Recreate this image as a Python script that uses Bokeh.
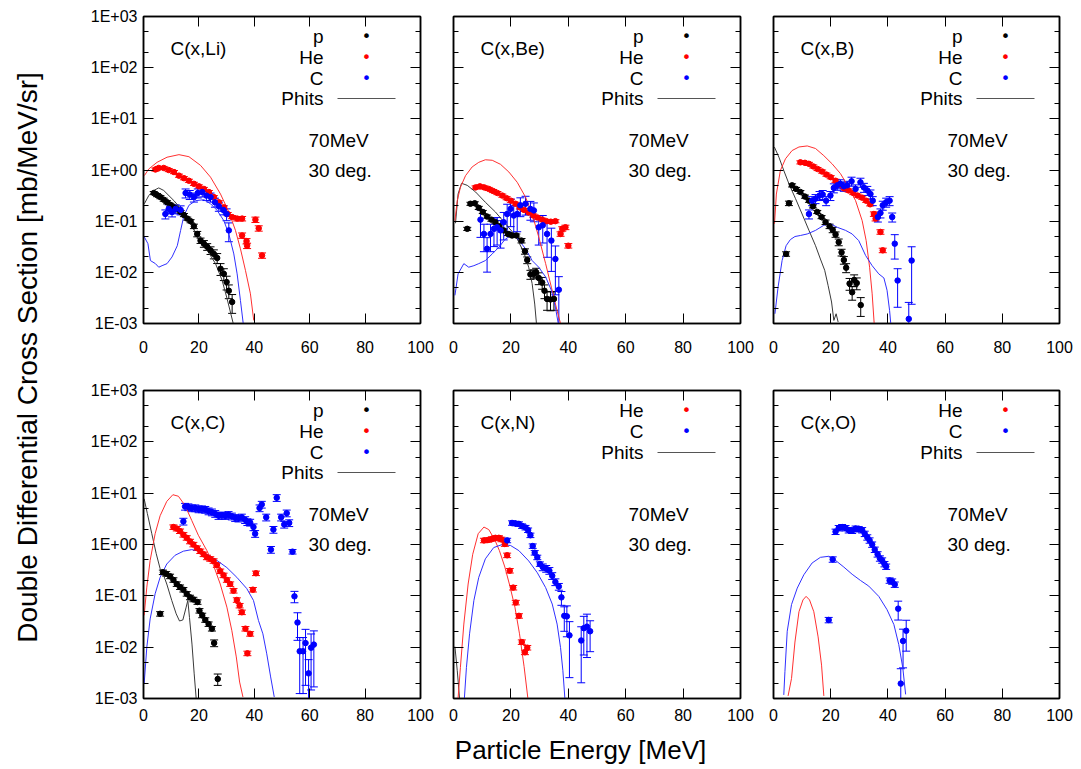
import numpy as np
from bokeh.plotting import figure
from bokeh.layouts import row, column
from bokeh.models import (Range1d, LogAxis, LinearAxis, FixedTicker, Whisker, TeeHead,
                          Label, Arrow, ColumnDataSource, CustomJSTickFormatter)
from bokeh.embed import file_html
from bokeh.resources import INLINE

# ---------------- tick definitions ----------------
X_TICKS = [0, 20, 40, 60, 80, 100]
Y_MAJOR = [1e-3, 1e-2, 1e-1, 1e0, 1e1, 1e2, 1e3]
Y_MINOR = [2e-3, 5e-3, 2e-2, 5e-2, 2e-1, 5e-1, 2e0, 5e0, 2e1, 5e1, 2e2, 5e2]

# ---------------- data (x in MeV, values as log10 of mb/MeV/sr, errors as relative) -------------
# C(x,Li)
li_p_x = [3.7, 4.9, 6.1, 7.3, 8.5, 9.7, 11.0, 12.2, 13.4, 14.6, 15.8, 17.0, 18.2, 19.4, 20.6, 21.8, 23.0, 24.2, 25.4, 26.6, 27.8, 29.0, 30.0, 30.8, 32.0]
li_p_log = [-0.45, -0.49, -0.53, -0.58, -0.63, -0.68, -0.73, -0.77, -0.82, -0.88, -0.95, -1.00, -1.10, -1.25, -1.38, -1.44, -1.50, -1.57, -1.64, -1.72, -1.93, -2.03, -2.19, -2.36, -2.58]
li_p_err = [0.07]*12 + [0.1, 0.12, 0.12, 0.15, 0.15, 0.17, 0.2, 0.22, 0.26, 0.26, 0.3, 0.3, 0.4]
li_he_x = [4.3, 5.5, 7.3, 9.1, 11.0, 12.8, 14.6, 16.4, 18.2, 20.0, 21.8, 23.6, 25.4, 27.2, 29.0, 30.4, 32.0, 33.8, 35.6, 35.6, 37.2, 37.4, 40.4, 41.6, 42.8]
li_he_log = [0.01, 0.04, 0.04, 0.00, -0.04, -0.11, -0.16, -0.21, -0.27, -0.32, -0.37, -0.43, -0.53, -0.63, -0.73, -0.86, -0.92, -0.95, -0.95, -1.28, -1.39, -1.48, -0.97, -1.14, -1.67]
li_he_err = [0.07]*17 + [0.1, 0.1, 0.12, 0.12, 0.12, 0.12, 0.12, 0.12]
li_c_x = [7.9, 9.1, 10.3, 11.6, 13.4, 15.2, 16.7, 18.2, 19.6, 21.2, 22.7, 24.2, 25.8, 27.2, 28.8, 30.0, 30.8]
li_c_log = [-0.86, -0.76, -0.82, -0.76, -0.78, -0.45, -0.48, -0.53, -0.45, -0.43, -0.50, -0.53, -0.63, -0.71, -0.78, -0.86, -1.18]
li_c_err = [0.2]*15 + [0.26, 0.4]
li_p_phits_x = [0.3, 1.9, 3.7, 5.5, 7.3, 11.0, 14.0, 17.0, 20.0, 23.0, 26.0, 28.4, 30.2, 32.4]
li_p_phits_log = [-0.66, -0.50, -0.40, -0.35, -0.40, -0.60, -0.79, -1.02, -1.38, -1.57, -1.83, -2.16, -2.52, -3.0]
li_he_phits_x = [0.3, 1.9, 4.9, 8.5, 12.8, 16.4, 20.6, 24.2, 27.8, 30.8, 33.2, 35.0, 36.8, 38.6, 39.8]
li_he_phits_log = [-0.11, 0.02, 0.15, 0.25, 0.30, 0.26, 0.09, -0.14, -0.47, -0.82, -1.18, -1.54, -1.96, -2.42, -2.94]
li_c_phits_x = [0.3, 1.6, 2.5, 4.3, 5.5, 6.7, 8.5, 10.3, 12.2, 13.4, 14.6, 16.4, 18.8, 21.8, 24.2, 26.6, 29.0, 30.8, 32.6, 33.8, 35.0, 36.0]
li_c_phits_log = [-1.31, -1.44, -1.77, -1.83, -1.90, -1.87, -1.83, -1.70, -1.48, -1.18, -0.89, -0.69, -0.60, -0.58, -0.66, -0.79, -0.99, -1.25, -1.64, -2.03, -2.55, -3.0]

# C(x,Be)
be_p_x = [4.8, 5.9, 7.4, 8.8, 10.2, 11.7, 13.2, 14.6, 16.0, 17.5, 19.0, 20.4, 21.9, 23.7, 24.9, 25.7, 26.8, 28.0, 28.8, 29.7, 30.9, 31.7, 32.6, 33.8, 35.0]
be_p_log = [-1.15, -0.66, -0.65, -0.74, -0.82, -0.91, -0.97, -1.02, -1.10, -1.18, -1.25, -1.28, -1.28, -1.38, -1.59, -1.76, -2.04, -2.03, -2.00, -2.11, -2.20, -2.36, -2.52, -2.53, -2.52]
be_p_err = [0.07]*13 + [0.1, 0.12, 0.15, 0.2, 0.2, 0.2, 0.26, 0.26, 0.3, 0.4, 0.4, 0.4]
be_he_x = [7.7, 9.2, 10.7, 12.3, 13.8, 15.3, 17.0, 18.5, 20.0, 21.6, 23.1, 24.6, 26.2, 27.8, 29.3, 30.9, 32.4, 33.9, 35.5, 37.3, 37.9, 39.0, 40.0]
be_he_log = [-0.34, -0.32, -0.34, -0.37, -0.41, -0.45, -0.50, -0.55, -0.60, -0.66, -0.73, -0.78, -0.83, -0.89, -0.93, -0.97, -1.00, -1.01, -1.00, -1.25, -1.15, -1.12, -1.48]
be_he_err = [0.07]*19 + [0.1]*4
be_c_x = [9.4, 10.6, 11.7, 12.9, 14.1, 15.2, 16.4, 17.5, 18.7, 19.9, 21.0, 22.2, 23.3, 25.1, 26.8, 28.0, 29.7, 31.1, 32.6, 34.1, 35.5, 36.7]
be_c_log = [-0.97, -1.25, -1.54, -1.25, -1.15, -1.12, -1.18, -1.02, -0.86, -0.76, -0.89, -0.86, -0.69, -0.66, -0.76, -0.79, -1.12, -1.08, -1.25, -1.38, -1.74, -2.34]
be_c_err = [0.55, 0.55, 0.65, 0.55, 0.55, 0.55, 0.55, 0.55, 0.55, 0.55, 0.55, 0.55, 0.4, 0.4, 0.4, 0.4, 0.55, 0.55, 0.65, 0.75, 0.8, 0.8]
be_p_phits_x = [0.7, 1.6, 2.8, 4.8, 7.7, 11.1, 14.6, 18.1, 21.6, 24.5, 26.2, 27.4, 28.3, 28.9]
be_p_phits_log = [-1.04, -0.47, -0.26, -0.30, -0.43, -0.63, -0.82, -1.05, -1.28, -1.61, -1.90, -2.22, -2.62, -3.0]
be_he_phits_x = [0.5, 1.3, 2.4, 4.2, 6.5, 8.8, 11.1, 13.5, 16.4, 19.3, 22.2, 25.1, 27.4, 29.7, 32.1, 34.1, 36.1, 37.3]
be_he_phits_log = [-0.99, -0.60, -0.34, -0.11, 0.06, 0.15, 0.20, 0.19, 0.11, -0.04, -0.24, -0.53, -0.86, -1.31, -1.83, -2.29, -2.75, -3.0]
be_c_phits_x = [0.5, 1.6, 3.6, 5.3, 7.1, 8.8, 11.1, 13.5, 15.8, 17.9, 19.9, 22.2, 25.1, 27.4, 29.7, 32.1, 34.1, 35.5, 36.5]
be_c_phits_log = [-2.45, -2.03, -1.83, -1.90, -1.87, -1.83, -1.77, -1.64, -1.51, -1.36, -1.28, -1.33, -1.54, -1.77, -1.90, -2.09, -2.35, -2.68, -3.0]

# C(x,B)
b_p_x = [4.4, 5.4, 6.5, 7.9, 9.4, 11.0, 12.4, 13.8, 15.3, 16.8, 18.2, 19.6, 20.7, 21.7, 22.8, 23.8, 24.6, 25.4, 26.6, 27.5, 28.2, 29.1, 30.5]
b_p_log = [-1.64, -0.65, -0.30, -0.37, -0.43, -0.52, -0.60, -0.71, -0.82, -0.92, -1.02, -1.10, -1.17, -1.26, -1.41, -1.61, -1.76, -1.91, -2.22, -2.39, -2.15, -2.21, -2.64]
b_p_err = [0.1, 0.1, 0.07, 0.07, 0.07, 0.07, 0.07, 0.07, 0.07, 0.07, 0.1, 0.1, 0.12, 0.12, 0.15, 0.15, 0.17, 0.2, 0.26, 0.3, 0.26, 0.26, 0.4]
b_he_x = [9.4, 11.0, 12.4, 13.9, 15.4, 17.0, 18.5, 20.0, 21.7, 23.2, 24.7, 26.3, 27.9, 29.4, 31.0, 32.4, 33.8, 35.1, 35.7, 37.4, 38.2]
b_he_log = [0.15, 0.14, 0.12, 0.07, 0.02, -0.03, -0.09, -0.14, -0.21, -0.29, -0.36, -0.40, -0.45, -0.50, -0.54, -0.60, -0.67, -0.86, -0.95, -1.21, -1.57]
b_he_err = [0.07]*17 + [0.1]*4
b_c_x = [12.4, 13.5, 14.7, 16.1, 17.2, 18.4, 19.9, 21.1, 22.3, 23.4, 24.6, 25.8, 27.3, 28.7, 30.4, 31.6, 32.8, 33.9, 34.7, 36.5, 37.4, 38.2, 39.4, 40.6, 41.5, 42.4, 43.4, 47.3, 48.3]
b_c_log = [-0.86, -0.60, -0.56, -0.50, -0.48, -0.60, -0.50, -0.35, -0.30, -0.27, -0.32, -0.30, -0.22, -0.37, -0.24, -0.34, -0.40, -0.47, -0.60, -0.92, -0.84, -0.69, -0.63, -0.60, -0.92, -1.44, -2.16, -2.91, -1.77]
b_c_err = [0.2]*25 + [0.5, 0.7, 1.1, 0.86]
b_p_phits_x = [0.3, 1.9, 3.6, 5.4, 7.7, 10.0, 12.4, 14.7, 16.4, 17.9, 19.1, 20.3, 21.1, 21.9, 22.6]
b_p_phits_log = [0.45, 0.25, -0.01, -0.27, -0.56, -0.86, -1.18, -1.48, -1.74, -1.96, -2.26, -2.58, -2.94, -2.81, -2.97]
b_he_phits_x = [0.35, 1.0, 2.4, 4.2, 6.5, 8.9, 11.8, 14.7, 17.6, 20.5, 23.4, 26.3, 28.7, 31.0, 32.4, 33.6, 34.5, 35.2]
b_he_phits_log = [-1.05, -0.47, -0.01, 0.22, 0.38, 0.45, 0.47, 0.42, 0.28, 0.12, -0.07, -0.34, -0.60, -0.99, -1.38, -1.90, -2.42, -3.0]
b_c_phits_x = [0.5, 1.6, 3.0, 4.4, 5.9, 7.5, 9.4, 11.8, 14.7, 17.6, 19.9, 22.3, 25.2, 27.5, 29.8, 32.2, 34.5, 36.8, 38.6, 39.7, 40.6, 41.0]
b_c_phits_log = [-2.81, -2.29, -1.77, -1.48, -1.36, -1.30, -1.28, -1.25, -1.18, -1.08, -1.05, -1.12, -1.18, -1.25, -1.38, -1.67, -1.87, -2.03, -2.11, -2.35, -2.75, -3.0]

# C(x,C)
c_p_x = [6.0, 7.0, 8.2, 9.6, 10.8, 12.0, 13.2, 14.4, 15.6, 16.8, 18.0, 19.5, 20.2, 21.2, 22.3, 23.5, 24.7, 25.5, 26.8]
c_p_log = [-1.35, -0.54, -0.57, -0.62, -0.69, -0.77, -0.83, -0.88, -0.96, -1.03, -1.07, -1.12, -1.29, -1.38, -1.47, -1.55, -1.64, -1.92, -2.62]
c_p_err = [0.1]*17 + [0.15, 0.25]
c_he_x = [10.8, 12.0, 13.2, 14.4, 15.6, 16.8, 18.0, 19.3, 20.5, 21.7, 22.9, 24.1, 25.3, 26.5, 27.7, 28.9, 30.1, 31.3, 32.5, 33.7, 34.7, 35.5, 36.8, 38.5, 37.5, 39.5, 40.6]
c_he_log = [0.34, 0.31, 0.26, 0.19, 0.13, 0.06, 0.00, -0.07, -0.13, -0.19, -0.25, -0.28, -0.32, -0.40, -0.52, -0.60, -0.69, -0.77, -0.90, -1.08, -1.19, -1.32, -1.64, -1.74, -2.12, -0.88, -0.56]
c_he_err = [0.1]*27
c_c_x = [14.4, 15.0, 16.2, 17.4, 18.7, 19.9, 21.1, 22.3, 23.5, 24.7, 25.9, 27.1, 28.3, 29.5, 30.7, 31.9, 33.1, 34.3, 35.5, 36.7, 37.5, 38.5, 39.7, 40.3, 41.9, 42.7, 44.3, 46.0, 46.9, 48.1, 49.7, 50.8, 51.7, 52.6, 53.8, 54.5, 55.6, 56.4, 57.6, 58.5, 59.6, 60.5, 61.5]
c_c_log = [0.45, 0.74, 0.73, 0.71, 0.71, 0.69, 0.69, 0.68, 0.65, 0.63, 0.60, 0.56, 0.57, 0.56, 0.58, 0.55, 0.52, 0.51, 0.53, 0.48, 0.44, 0.43, 0.34, 0.21, 0.71, 0.78, 0.53, -0.10, 0.29, 0.91, 0.53, 0.39, 0.61, 0.42, -0.14, -1.01, -1.52, -2.08, -2.08, -1.92, -2.51, -2.01, -1.95]
c_c_err = [0.15]*34 + [0.1, 0.25, 0.55, 0.85, 0.85, 0.85, 0.85, 0.85, 0.85]
c_p_phits_x = [0.24, 1.4, 3.0, 4.6, 6.0, 7.0, 8.4, 10.2, 11.8, 13.0, 14.2, 15.4, 16.0, 16.6, 17.5, 18.3, 19.0]
c_p_phits_log = [0.89, 0.60, 0.21, -0.18, -0.47, -0.56, -0.77, -1.09, -1.35, -1.49, -1.47, -1.22, -1.09, -1.42, -1.94, -2.52, -2.99]
c_he_phits_x = [0.24, 1.2, 2.4, 4.2, 6.0, 8.4, 10.6, 12.6, 15.0, 17.4, 19.8, 22.9, 25.3, 27.7, 30.1, 31.9, 33.5, 34.7, 35.9]
c_he_phits_log = [-1.38, -0.83, -0.31, 0.21, 0.56, 0.84, 0.97, 0.94, 0.76, 0.47, 0.18, -0.12, -0.41, -0.77, -1.22, -1.68, -2.19, -2.68, -2.97]
c_c_phits_x = [0.24, 1.2, 2.4, 4.2, 6.0, 8.4, 11.4, 14.4, 17.4, 20.5, 23.5, 26.5, 30.1, 33.7, 37.3, 39.7, 41.5, 43.1, 44.5, 45.9, 47.2]
c_c_phits_log = [-2.71, -2.00, -1.45, -0.96, -0.64, -0.38, -0.21, -0.13, -0.10, -0.13, -0.21, -0.31, -0.45, -0.64, -0.86, -1.09, -1.48, -1.74, -2.13, -2.58, -2.97]

# C(x,N)
n_he_x = [10.6, 12.1, 13.5, 14.6, 15.8, 16.7, 17.9, 18.7, 19.6, 20.8, 21.7, 22.8, 23.8, 24.9, 25.7]
n_he_log = [0.08, 0.09, 0.11, 0.13, 0.13, 0.10, 0.01, -0.21, -0.51, -0.84, -1.13, -1.39, -1.90, -2.10, -2.01]
n_he_err = [0.1]*15
n_c_x = [18.7, 20.4, 21.6, 22.8, 23.9, 25.1, 26.0, 26.8, 27.6, 28.3, 29.2, 30.1, 31.1, 32.3, 33.4, 34.4, 35.5, 36.7, 37.6, 38.6, 39.5, 40.4, 44.5, 45.4, 46.5, 47.6]
n_c_log = [0.08, 0.42, 0.41, 0.40, 0.36, 0.33, 0.28, 0.18, -0.03, -0.16, -0.25, -0.38, -0.44, -0.47, -0.51, -0.61, -0.73, -0.82, -1.03, -1.39, -1.40, -1.77, -1.87, -1.63, -1.60, -1.69]
n_c_err = [0.1]*12 + [0.15]*6 + [0.3, 0.5, 0.6, 0.85, 0.85, 0.7, 0.75, 0.6]
n_p_phits_x = [0.5, 1.3, 2.1]
n_p_phits_log = [-1.99, -2.45, -2.99]
n_he_phits_x = [1.6, 2.4, 3.6, 5.1, 6.7, 8.6, 10.6, 12.3, 14.4, 16.0, 17.9, 19.6, 21.4, 23.0, 24.6, 25.9]
n_he_phits_log = [-2.99, -2.40, -1.55, -0.77, -0.19, 0.21, 0.34, 0.29, 0.09, -0.12, -0.44, -0.80, -1.22, -1.74, -2.38, -2.99]
n_c_phits_x = [3.8, 4.5, 5.6, 7.1, 8.8, 11.1, 14.0, 17.0, 19.9, 22.8, 26.2, 29.2, 32.1, 34.4, 36.1, 37.3, 38.1, 38.8]
n_c_phits_log = [-2.99, -2.40, -1.74, -1.09, -0.64, -0.28, -0.06, 0.00, -0.02, -0.12, -0.32, -0.55, -0.84, -1.16, -1.55, -2.01, -2.45, -2.99]

# C(x,O)
o_c_x = [19.3, 20.7, 21.7, 22.8, 24.0, 25.2, 26.3, 27.5, 28.7, 29.8, 31.0, 31.9, 32.8, 33.6, 34.5, 35.4, 36.4, 37.2, 38.0, 38.8, 39.4, 40.6, 41.5, 42.4, 43.6, 44.5, 45.3, 46.4]
o_c_log = [-1.47, -0.29, 0.25, 0.32, 0.34, 0.32, 0.28, 0.27, 0.31, 0.30, 0.28, 0.21, 0.14, 0.08, 0.00, -0.10, -0.19, -0.27, -0.31, -0.38, -0.43, -0.70, -0.72, -0.78, -1.25, -2.71, -1.88, -1.68]
o_c_err = [0.12]*24 + [0.4, 0.95, 0.7, 0.6]
o_he_phits_x = [5.1, 6.3, 7.5, 8.9, 10.3, 11.4, 12.6, 14.1, 15.6, 16.8, 17.6]
o_he_phits_log = [-2.95, -2.61, -1.90, -1.31, -1.08, -1.01, -1.08, -1.31, -1.80, -2.35, -2.95]
o_c_phits_x = [3.6, 4.0, 4.8, 6.3, 8.3, 10.6, 13.5, 16.4, 19.3, 21.7, 24.6, 27.5, 30.4, 33.3, 36.8, 39.7, 42.1, 43.8, 45.2, 46.2]
o_c_phits_log = [-2.93, -2.47, -1.69, -1.17, -0.85, -0.59, -0.36, -0.25, -0.23, -0.31, -0.44, -0.58, -0.70, -0.81, -1.01, -1.27, -1.56, -1.95, -2.40, -2.92]

# ---------------- styling ----------------
FONT = "Liberation Sans"
PT_COLOR = {"p": "#000000", "He": "#ff0000", "C": "#0000ff"}
LN_COLOR = {"p": "#3a3a3a", "He": "#ff3030", "C": "#3030ff"}

PANELS = [
    dict(title="C(x,Li)", fw=277, fh=307, bl=83, br=16, bt=16, bb=45, ylab=True, top=True,
         legend=["p", "He", "C"],
         exp={"p": (li_p_x, li_p_log, li_p_err), "He": (li_he_x, li_he_log, li_he_err), "C": (li_c_x, li_c_log, li_c_err)},
         phits={"p": (li_p_phits_x, li_p_phits_log), "He": (li_he_phits_x, li_he_phits_log), "C": (li_c_phits_x, li_c_phits_log)}),
    dict(title="C(x,Be)", fw=287, fh=307, bl=17, br=16, bt=16, bb=45, ylab=False, top=True,
         legend=["p", "He", "C"],
         exp={"p": (be_p_x, be_p_log, be_p_err), "He": (be_he_x, be_he_log, be_he_err), "C": (be_c_x, be_c_log, be_c_err)},
         phits={"p": (be_p_phits_x, be_p_phits_log), "He": (be_he_phits_x, be_he_phits_log), "C": (be_c_phits_x, be_c_phits_log)}),
    dict(title="C(x,B)", fw=286, fh=307, bl=17, br=22, bt=16, bb=45, ylab=False, top=True,
         legend=["p", "He", "C"],
         exp={"p": (b_p_x, b_p_log, b_p_err), "He": (b_he_x, b_he_log, b_he_err), "C": (b_c_x, b_c_log, b_c_err)},
         phits={"p": (b_p_phits_x, b_p_phits_log), "He": (b_he_phits_x, b_he_phits_log), "C": (b_c_phits_x, b_c_phits_log)}),
    dict(title="C(x,C)", fw=277, fh=308, bl=83, br=16, bt=22, bb=30, ylab=True, top=False,
         legend=["p", "He", "C"],
         exp={"p": (c_p_x, c_p_log, c_p_err), "He": (c_he_x, c_he_log, c_he_err), "C": (c_c_x, c_c_log, c_c_err)},
         phits={"p": (c_p_phits_x, c_p_phits_log), "He": (c_he_phits_x, c_he_phits_log), "C": (c_c_phits_x, c_c_phits_log)}),
    dict(title="C(x,N)", fw=287, fh=308, bl=17, br=16, bt=22, bb=30, ylab=False, top=False,
         legend=["He", "C"],
         exp={"He": (n_he_x, n_he_log, n_he_err), "C": (n_c_x, n_c_log, n_c_err)},
         phits={"p": (n_p_phits_x, n_p_phits_log), "He": (n_he_phits_x, n_he_phits_log), "C": (n_c_phits_x, n_c_phits_log)}),
    dict(title="C(x,O)", fw=286, fh=308, bl=17, br=22, bt=22, bb=30, ylab=False, top=False,
         legend=["He", "C"],
         exp={"C": (o_c_x, o_c_log, o_c_err)},
         phits={"He": (o_he_phits_x, o_he_phits_log), "C": (o_c_phits_x, o_c_phits_log)}),
]

YFMT = """
const e = Math.round(Math.log10(tick));
const a = Math.abs(e);
return "1E" + (e < 0 ? "-" : "+") + (a < 10 ? "0" : "") + a;
"""


def style_axis(ax, show, standoff):
    ax.axis_line_color = "black"
    ax.axis_line_width = 1.5
    ax.major_tick_in = 10
    ax.major_tick_out = 0
    ax.minor_tick_in = 5
    ax.minor_tick_out = 0
    ax.major_tick_line_color = "black"
    ax.minor_tick_line_color = "black"
    ax.major_tick_line_width = 1
    ax.minor_tick_line_width = 1
    if show:
        ax.major_label_text_font = FONT
        ax.major_label_text_font_size = "16px"
        ax.major_label_text_color = "black"
        ax.major_label_standoff = standoff
    else:
        ax.formatter = CustomJSTickFormatter(code="return '';")
        ax.major_label_text_font_size = "0px"
        ax.major_label_standoff = 0


def make_panel(spec):
    fw, fh = spec["fw"], spec["fh"]
    p = figure(frame_width=fw, frame_height=fh, x_range=Range1d(0, 100), y_range=Range1d(1e-3, 1e3),
               y_axis_type="log", x_axis_location=None, y_axis_location=None,
               min_border_left=spec["bl"], min_border_right=spec["br"],
               min_border_top=spec["bt"], min_border_bottom=spec["bb"],
               toolbar_location=None, output_backend="svg",
               background_fill_color="white", border_fill_color="white")
    p.grid.visible = False
    p.outline_line_color = "black"
    p.outline_line_width = 1.5

    xt = FixedTicker(ticks=X_TICKS, minor_ticks=[])
    yt = FixedTicker(ticks=Y_MAJOR, minor_ticks=Y_MINOR)
    bottom = LinearAxis(ticker=xt)
    style_axis(bottom, True, 17 if spec["top"] else 10)
    top = LinearAxis(ticker=xt)
    style_axis(top, False, 0)
    left = LogAxis(ticker=yt)
    if spec["ylab"]:
        left.formatter = CustomJSTickFormatter(code=YFMT)
    style_axis(left, spec["ylab"], 6)
    right = LogAxis(ticker=yt)
    style_axis(right, False, 0)
    p.add_layout(bottom, "below")
    p.add_layout(top, "above")
    p.add_layout(left, "left")
    p.add_layout(right, "right")

    # PHITS curves
    for key, (xs, ls) in spec["phits"].items():
        p.line(xs, 10 ** np.array(ls), line_color=LN_COLOR[key], line_width=1)

    # experimental points with error bars
    for key, (xs, ls, errs) in spec["exp"].items():
        y = 10 ** np.array(ls)
        f = np.array(errs)
        src = ColumnDataSource(dict(x=xs, y=y, upper=y * (1 + f), lower=np.maximum(y * (1 - f), 1e-3)))
        c = PT_COLOR[key]
        w = Whisker(source=src, base="x", upper="upper", lower="lower", dimension="height",
                    line_color=c, line_width=1,
                    upper_head=TeeHead(size=8, line_color=c, line_width=1),
                    lower_head=TeeHead(size=8, line_color=c, line_width=1))
        p.add_layout(w)
        p.scatter("x", "y", source=src, size=5.5, fill_color=c, line_color=c)

    # panel title and conditions
    p.add_layout(Label(x=27, y=fh - 32, x_units="screen", y_units="screen", text=spec["title"],
                       text_align="left", text_baseline="middle", text_font=FONT,
                       text_font_size="19px", text_color="black"))
    p.add_layout(Label(x=fw - 112, y=fh - 124, x_units="screen", y_units="screen", text="70MeV",
                       text_align="left", text_baseline="middle", text_font=FONT,
                       text_font_size="19px", text_color="black"))
    p.add_layout(Label(x=fw - 112, y=fh - 154, x_units="screen", y_units="screen", text="30 deg.",
                       text_align="left", text_baseline="middle", text_font=FONT,
                       text_font_size="19px", text_color="black"))

    # key
    offsets = [20, 41, 62, 82]
    items = spec["legend"] + ["Phits"]
    for k, name in enumerate(items):
        yy = fh - offsets[k]
        p.add_layout(Label(x=fw - 97, y=yy, x_units="screen", y_units="screen", text=name,
                           text_align="right", text_baseline="middle", text_font=FONT,
                           text_font_size="19px", text_color="black"))
        if name == "Phits":
            p.add_layout(Arrow(end=None, start=None, x_start=fw - 83, y_start=yy, x_end=fw - 25, y_end=yy,
                               start_units="screen", end_units="screen",
                               line_color="#555555", line_width=1))
        else:
            p.add_layout(Label(x=fw - 54, y=yy, x_units="screen", y_units="screen", text="\u2022",
                               text_align="center", text_baseline="middle", text_font="DejaVu Sans",
                               text_font_size="16px", text_color=PT_COLOR[name]))
    return p


figs = [make_panel(s) for s in PANELS]

# global axis titles
ylab = figure(frame_width=60, frame_height=769, x_range=Range1d(0, 1), y_range=Range1d(0, 1),
              x_axis_location=None, y_axis_location=None, toolbar_location=None, output_backend="svg",
              min_border=0, outline_line_color=None)
ylab.grid.visible = False
ylab.add_layout(Label(x=27, y=769 - 357, x_units="screen", y_units="screen",
                      text="Double Differential Cross Section [mb/MeV/sr]", angle=np.pi / 2,
                      text_align="center", text_baseline="middle", text_font=FONT,
                      text_font_size="28px", text_color="black"))

xlab = figure(frame_width=1021, frame_height=41, x_range=Range1d(0, 1), y_range=Range1d(0, 1),
              x_axis_location=None, y_axis_location=None, toolbar_location=None, output_backend="svg",
              min_border=0, outline_line_color=None)
xlab.grid.visible = False
xlab.add_layout(Label(x=520, y=20, x_units="screen", y_units="screen",
                      text="Particle Energy [MeV]", text_align="center", text_baseline="middle",
                      text_font=FONT, text_font_size="26px", text_color="black"))

layout = row(ylab, column(row(figs[0], figs[1], figs[2]), row(figs[3], figs[4], figs[5]), xlab))

open("out.html", "w").write(file_html(layout, INLINE))
